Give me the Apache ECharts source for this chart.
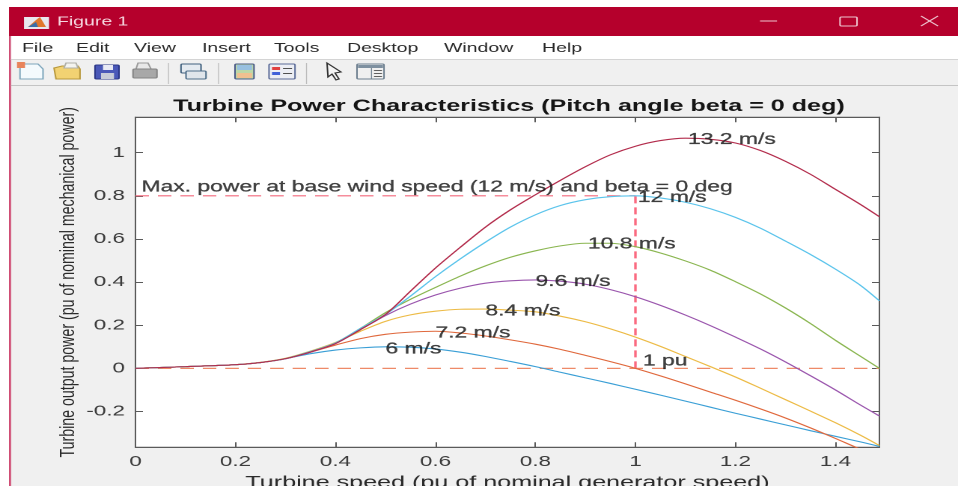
<!DOCTYPE html>
<html><head><meta charset="utf-8">
<style>
html,body{margin:0;padding:0;background:#fff;overflow:hidden;width:958px;height:486px}
#c{width:640px;height:486px;transform:scaleX(1.496875);transform-origin:0 0;filter:blur(.3px)}
</style>
<script src="https://cdn.jsdelivr.net/npm/echarts@6/dist/echarts.min.js"></script>
</head><body><div id="c"></div>
<script>
const speed=[0,.1,.2,.25,.3,.35,.4,.45,.5,.55,.6,.65,.7,.75,.8,.85,.9,.95,1,1.05,1.1,1.15,1.2,1.25,1.3,1.35,1.4,1.45,1.488];
const p6 =[0,.008,.017,.027,.045,.068,.085,.095,.1,.098,.09,.075,.055,.032,.008,-.018,-.044,-.07,-.097,-.124,-.152,-.18,-.208,-.235,-.262,-.289,-.315,-.341,-.362];
const p72=[0,.008,.017,.027,.045,.075,.108,.138,.158,.168,.172,.164,.15,.132,.112,.088,.06,.031,0,-.035,-.072,-.11,-.148,-.188,-.23,-.276,-.325,-.375,-.41];
const p84=[0,.008,.017,.028,.047,.08,.12,.172,.218,.248,.265,.274,.275,.27,.262,.242,.216,.183,.145,.102,.055,.008,-.04,-.092,-.145,-.198,-.252,-.31,-.358];
const p96=[0,.008,.017,.027,.044,.075,.115,.18,.245,.298,.34,.372,.395,.406,.41,.404,.39,.365,.332,.292,.247,.198,.145,.09,.03,-.034,-.1,-.17,-.221];
const p108=[0,.008,.017,.027,.045,.078,.118,.185,.258,.32,.375,.428,.475,.515,.545,.568,.58,.58,.564,.535,.498,.455,.402,.345,.28,.208,.13,.056,0];
const p12=[0,.008,.017,.027,.045,.078,.118,.185,.25,.335,.425,.508,.585,.655,.712,.755,.782,.796,.8,.79,.77,.74,.7,.65,.59,.528,.46,.385,.313];
const p132=[0,.008,.017,.027,.045,.076,.115,.18,.25,.358,.465,.562,.655,.735,.805,.872,.935,.99,1.03,1.056,1.067,1.062,1.045,1.01,.96,.9,.83,.76,.703];
const curves=[p6,p72,p84,p96,p108,p12,p132];
const colors=['#3a9fd6','#e0683c','#edbb45','#9a55ad','#8ab650','#5ac4ec','#b32c4c'];
const zeroLineX=[0,1.488], zeroLineY=[0,0];
const maxLineX=[0,1], maxLineY=[.8,.8];
const onePuX=[1,1], onePuY=[0,.8];
const labelText=['6 m/s','7.2 m/s','8.4 m/s','9.6 m/s','10.8 m/s','12 m/s','13.2 m/s','Max. power at base wind speed (12 m/s) and beta = 0 deg','1 pu'];
const labelX=[.5,.6,.7,.8,.905,1.005,1.105,.012,1.015];
const labelY=[.098,.172,.275,.41,.585,.8,1.07,.848,.043];
const xTicks=[0,.2,.4,.6,.8,1,1.2,1.4];
const yTicks=[-.2,0,.2,.4,.6,.8,1];
const menu=['File','Edit','View','Insert','Tools','Desktop','Window','Help'];
const menuLeft=[22,76,134,202,274,347,444,542];

const K=958/640, X=v=>v/K;
const rect=(x,y,w,h,fill,extra)=>Object.assign({type:'rect',shape:{x:X(x),y,width:X(w),height:h},style:{fill},silent:true},extra||{});
const box=(x,y,w,h,fill,stroke)=>({type:'rect',shape:{x:X(x),y,width:X(w),height:h,r:1},style:{fill,stroke,lineWidth:1},silent:true});
const poly=(pts,fill,stroke)=>({type:'polygon',shape:{points:pts.map(p=>[X(p[0]),p[1]])},style:{fill,stroke,lineWidth:1},silent:true});
const seg=(x1,y1,x2,y2,stroke,w)=>({type:'line',shape:{x1:X(x1),y1,x2:X(x2),y2},style:{stroke,lineWidth:w||1},silent:true});
const txt=(x,y,text,fill,size)=>({type:'text',x:X(x),y,style:{text,fill,font:size+'px "Liberation Sans"',textVerticalAlign:'middle'},silent:true});

const chrome=[
 rect(0,0,958,7,'#ffffff'),
 rect(9,7,949,29,'#b5002c'),
 rect(0,7,9,479,'#ffffff'),
 rect(9,36,2,450,'#cf4a72'),
 rect(11,36,947,24,'#ffffff'),
 rect(11,59,947,1,'#d4d4d4'),
 rect(11,85,947,1,'#c4c4c4'),
 rect(24,17,25,12,'#e8e8ee'),
 poly([[28,27],[36,20],[40,17],[46,27]],'#e0782c'),
 poly([[28,27],[36,22],[38,27]],'#3a6ea8'),
 txt(57,22,'Figure 1','#f6d8e0',13),
 seg(760,21,777,21,'#eec4cf',1),
 box(840,17,17,9,'none','#eec4cf'),
 seg(921,16,938,26,'#eec4cf',1), seg(921,26,938,16,'#eec4cf',1),
 poly([[20,64],[38,64],[43,69],[43,79],[20,79]],'#f4fafd','#7ea6bc'),
 rect(17,62,8,6,'#e8845c'),
 poly([[54,68],[62,66],[78,66],[80,69],[80,79],[56,79]],'#f2d272','#b8983c'),
 poly([[66,63],[76,63],[78,68],[64,68]],'#f4f4f0','#b0b0a8'),
 box(95,65,24,14,'#4a58b8','#2c3888'),
 rect(103,65,10,5,'#e8eaf4'),
 rect(101,73,13,6,'#c8ccd8'),
 poly([[138,63],[148,63],[151,69],[136,69]],'#e8e8e8','#9a9a9a'),
 box(133,69,24,9,'#a8a8a8','#848484'),
 rect(168,63,1,21,'#bcbcbc'),
 box(181,64,20,9,'#e4eaf0','#40607e'),
 box(186,71,20,8,'#dfe5eb','#4e6e8a'),
 rect(218,63,1,21,'#bcbcbc'),
 box(235,64,19,15,'#bcd8a8','#4a5a88'),
 rect(237,65,15,5,'#98c0e0'),
 rect(237,73,15,5,'#f0c090'),
 box(269,64,26,15,'#eceef4','#5a6a98'),
 rect(272,67,8,3,'#e04040'), rect(272,72,8,3,'#4060d8'),
 rect(283,68,9,1,'#505050'), rect(283,73,9,1,'#505050'),
 rect(306,63,1,21,'#bcbcbc'),
 poly([[327,63],[341,72],[335,73],[339,79],[336,80],[332,74],[328,77]],'#f4f4f4','#303030'),
 box(357,64,27,15,'#f0f0f0','#6e8090'),
 rect(358,65,25,3,'#7e90a0'),
 rect(371,68,1,11,'#6e8090'),
 rect(374,70,8,1,'#606060'), rect(374,73,8,1,'#606060'), rect(374,76,8,1,'#606060')
].concat(menu.map((m,i)=>txt(menuLeft[i],48.5,m,'#2a2a2a',13)));

const fmt=v=>String(v);
const axisBase={type:'value',axisLine:{show:true,onZero:false,lineStyle:{color:'#5a5a5a',width:1}},splitLine:{show:false}};
const tick={show:true,inside:true,length:5,lineStyle:{color:'#5a5a5a',width:1}};
const series=curves.map((c,i)=>({type:'line',name:labelText[i],data:speed.map((s,j)=>[s,c[j]]),smooth:.3,showSymbol:false,symbol:'none',lineStyle:{color:colors[i],width:1.1},z:3}));
const dash=(xs,ys,color,width,pattern,name)=>({type:'line',name,data:xs.map((x,i)=>[x,ys[i]]),showSymbol:false,symbol:'none',lineStyle:{color,width,type:pattern},z:2});
series.push(dash(zeroLineX,zeroLineY,'#ee8a68',1.2,[9,6],'zero'));
series.push(dash(maxLineX,maxLineY,'#f4687c',1.2,[9,6],'max'));
series.push(dash(onePuX,onePuY,'#fb6a80',1.7,[7,4],'1 pu'));
series.push({type:'scatter',name:'notes',symbol:'circle',symbolSize:0,z:5,silent:true,
  data:labelText.map((t,i)=>({value:[labelX[i],labelY[i]],name:t})),
  label:{show:true,position:'right',distance:0,offset:[0,2],formatter:p=>p.name,color:'#111',textBorderColor:'#111',textBorderWidth:.25,fontFamily:'Liberation Sans',fontSize:15.3}});

const chart=echarts.init(document.getElementById('c'),null,{devicePixelRatio:2,width:640,height:486});
chart.setOption({
 animation:false,backgroundColor:'#f0f0f0',
 title:{text:'Turbine Power Characteristics (Pitch angle beta = 0 deg)',left:335,top:93,textAlign:'center',
   textStyle:{fontFamily:'Liberation Sans',fontWeight:'bold',fontSize:16.8,color:'#151515'}},
 grid:{show:true,outerBoundsMode:'none',containLabel:false,left:90.5,top:117.3,width:497,height:330,backgroundColor:'#fff',borderColor:'#5a5a5a',borderWidth:1},
 xAxis:[Object.assign({},axisBase,{min:0,max:1.488,position:'bottom',
    name:'Turbine speed (pu of nominal generator speed)',nameLocation:'middle',nameGap:25,
    nameTextStyle:{fontFamily:'Liberation Sans',fontSize:16.8,color:'#2a2a2a'},
    axisTick:Object.assign({customValues:xTicks},tick),
    axisLabel:{customValues:xTicks,formatter:fmt,margin:7,color:'#3c3c3c',fontFamily:'Liberation Sans',fontSize:15}}),
  Object.assign({},axisBase,{min:0,max:1.488,position:'top',axisTick:Object.assign({customValues:xTicks},tick),axisLabel:{show:false}})],
 yAxis:[Object.assign({},axisBase,{min:-.366,max:1.164,position:'left',
    name:'Turbine output power (pu of nominal mechanical power)',nameLocation:'middle',nameGap:38,nameMoveOverlap:false,
    nameTextStyle:{fontFamily:'Liberation Sans',fontSize:14.2,color:'#2a2a2a'},
    axisTick:Object.assign({customValues:yTicks},tick),
    axisLabel:{customValues:yTicks,formatter:fmt,margin:7,color:'#3c3c3c',fontFamily:'Liberation Sans',fontSize:15}}),
  Object.assign({},axisBase,{min:-.366,max:1.164,position:'right',axisTick:Object.assign({customValues:yTicks},tick),axisLabel:{show:false}})],
 graphic:{elements:chrome},
 series
});
</script></body></html>
